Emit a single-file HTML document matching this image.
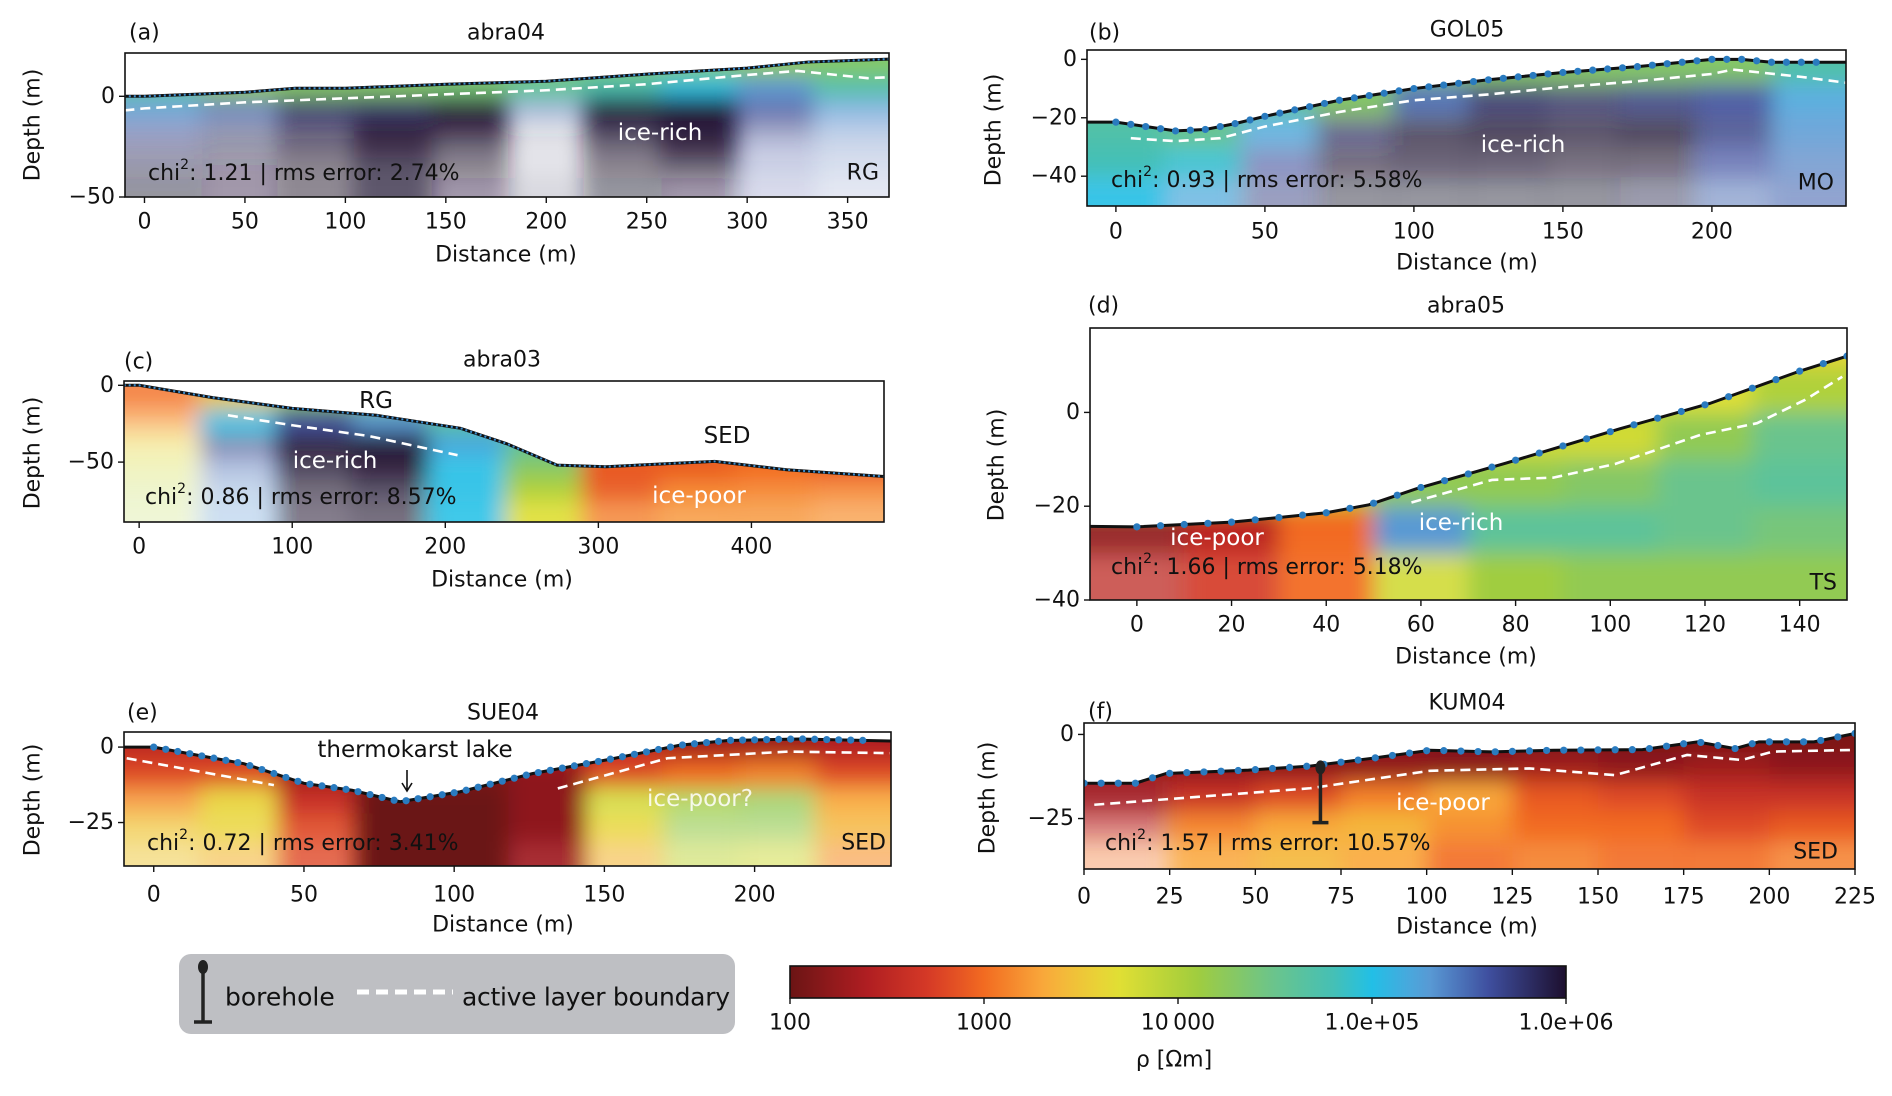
<!DOCTYPE html>
<html><head><meta charset="utf-8">
<style>
html,body{margin:0;padding:0;background:#fff;}
svg text{font-family:"DejaVu Sans","Liberation Sans",sans-serif;}
</style></head>
<body>
<svg id="fig" xmlns="http://www.w3.org/2000/svg" width="1892" height="1091" viewBox="0 0 1892 1091">
<defs>
<filter id="blur" filterUnits="userSpaceOnUse" x="0" y="0" width="1892" height="1091"><feGaussianBlur stdDeviation="11"/></filter>
<linearGradient id="cmapGrad" x1="0" x2="1" y1="0" y2="0"></linearGradient>
</defs>
</svg>
<script>
// ---------- DATA ----------
const aTopoX=[-10,0,25,50,75,100,150,200,250,300,330,371];
const aTopoZ=[0,0,1,2,4,4,6,7.5,11,14,17,18.5];
const aActX=[-10,0,50,100,150,200,250,300,325,360,371];
const aActZ=[-7,-6,-3,-1,1,3,6,10.6,12.6,9,9.5];
const aVals=[[4.3,4.3,4.3,4.3,4.3,4.3,4.3,4.3,4.2,4.3],[4.6,4.2,4.3,4.3,4.4,4.6,4.8,5.0,5.3,4.7],[5.3,5.5,5.8,5.8,6,5.5,6,6,5.6,5.3],[5.6,5.8,5.9,6,6,6,6,6,5.7,5.4],[5.8,5.9,6,6,6,6,6,6,5.6,5.5],[5.9,6,6,6,6,6,6,6,5.6,5.5],[6,6,6,6,6,6,6,6,5.6,5.5]];
const aAlpha=[[1,1,1,1,1,1,1,1,1,1],[1,1,1,1,1,1,1,1,1,1],[0.85,0.8,0.9,0.95,0.95,0.5,0.95,0.95,0.8,0.7],[0.55,0.5,0.7,0.9,0.85,0.15,0.8,0.95,0.5,0.4],[0.45,0.45,0.6,0.85,0.6,0.1,0.6,0.85,0.3,0.25],[0.45,0.4,0.5,0.7,0.5,0.1,0.5,0.6,0.25,0.2],[0.45,0.4,0.5,0.7,0.4,0.15,0.45,0.4,0.2,0.15]];
const aXTicks=[0,50,100,150,200,250,300,350];
const aYTicks=[0,-50];

const bTopoX=[-10,0,10,20,30,40,50,75,100,125,150,175,190,200,210,220,246];
const bTopoZ=[-21.5,-21.5,-23,-24.5,-24,-22,-19.5,-14,-10,-7,-4.5,-2.5,-1,0,0,-1,-1];
const bActX=[5,20,35,50,75,100,125,150,175,200,207,230,245];
const bActZ=[-27,-28,-27,-23,-18,-14,-12,-9.5,-7.5,-5,-3.5,-6,-8];
const bVals=[[4.6,4.6,4.6,4.3,4.3,4.3,4.3,4.3,4.3,4.7],[4.6,4.6,4.6,4.3,5.5,5.8,5.8,5.7,5.6,5.2],[4.7,4.5,5.2,5.8,6,6,6,6,5.7,5.3],[4.8,4.9,5.6,6,6,6,6,6,5.6,5.4],[5,5.2,5.7,6,6,6,6,5.9,5.5,5.5]];
const bAlpha=[[1,1,1,1,1,1,1,1,1,1],[1,1,1,1,0.9,0.85,0.8,0.85,0.9,0.9],[1,1,0.8,0.7,0.7,0.75,0.7,0.75,0.8,0.85],[1,0.9,0.6,0.6,0.65,0.65,0.6,0.6,0.7,0.7],[0.9,0.7,0.5,0.45,0.45,0.45,0.45,0.45,0.5,0.6]];
const bXTicks=[0,50,100,150,200];
const bYTicks=[0,-20,-40];

const cTopoX=[-10,0,48,100,155,210,240,273,305,376,423,488];
const cTopoZ=[0,0,-8,-15,-19.5,-28,-38,-52,-53,-49.5,-55,-59.5];
const cActX=[58,100,150,208];
const cActZ=[-19.5,-26,-33,-45.5];
const cVals=[[3.0,3.5,4.2,4.3,4.3,4.3,3,3,3,3],[3.2,5.0,5.6,5.3,4.6,4.4,3,3,3,3],[3.6,5.7,6,6,5.2,4.6,3,3,3,3],[3.8,5.5,6,6,5.0,4.3,2.9,2.9,3,2.9],[3.9,5.4,6,6,5.0,4.0,2.9,3.1,3.1,3.1],[4,5.3,6,6,5.0,3.7,3.1,3.2,3.2,3.2]];
const cAlpha=[[0.8,1,1,1,1,1,1,1,1,1],[0.6,0.9,1,1,1,1,1,1,1,1],[0.4,0.6,0.9,0.95,1,1,1,1,1,1],[0.3,0.4,0.75,0.9,0.9,1,1,1,1,1],[0.25,0.3,0.6,0.7,0.9,1,0.95,0.95,0.9,0.85],[0.2,0.3,0.55,0.6,0.85,0.9,0.8,0.8,0.8,0.7]];
const cXTicks=[0,100,200,300,400];
const cYTicks=[0,-50];

const dTopoX=[-10,0,20,40,49,59,78,102,121,140,150];
const dTopoZ=[-24.3,-24.4,-23.4,-21.4,-19.7,-16.3,-10.8,-3.5,1.9,8.8,12];
const dActX=[58,75,88,101,119,131,141,149];
const dActZ=[-19.2,-14.4,-13.9,-11,-4.8,-2.3,2.6,7.6];
const dVals=[[4,4,4,4,4,4,3.6,3.6],[4,4,4,4,4,4,3.7,4.0],[4,4,4,4,3.8,3.8,4.2,4.5],[4,4,4,4.2,4.2,4.3,4.5,4.6],[2.2,2.5,3.0,5.3,4.6,4.6,4.5,4.4],[2.5,2.7,3.0,3.8,4.1,4.2,4.2,4.2]];
const dAlpha=[[1,1,1,1,1,1,1,1],[1,1,1,1,1,1,1,1],[1,1,1,1,1,1,1,1],[1,1,1,1,1,1,1,1],[0.9,1,1,1,1,1,1,1],[0.75,0.9,0.95,0.9,1,1,1,1]];
const dXTicks=[0,20,40,60,80,100,120,140];
const dYTicks=[0,-20,-40];

const eTopoX=[-10,0,30,50,66,82,102,126,151,175,191,215,246];
const eTopoZ=[0,0,-5.5,-12,-14.3,-18.1,-14.8,-8.8,-4.2,0.6,2.2,2.7,2];
const eActX=[-9,40,null,134.5,171,211,245];
const eActZ=[-3.7,-12.6,null,-13.7,-3.7,-1.5,-2];
const eVals=[[2.5,2.5,2.5,2.5,2.5,2.5,2.5,2.3,2.3,2.4],[2.8,2.8,2.3,2.1,2.1,2.2,2.8,3.0,3.1,2.8],[3.2,3.6,2.6,2.0,2.0,2.2,3.8,4.1,4.2,3.3],[3.5,3.6,2.8,2.0,2.0,2.2,3.6,4.2,4.2,3.4],[3.5,3.4,2.8,2.0,2.0,2.3,3.4,3.9,3.8,3.2]];
const eAlpha=[[1,1,1,1,1,1,1,1,1,1],[1,1,1,1,1,1,1,1,1,1],[0.85,0.9,1,1,1,1,0.85,0.75,0.75,0.9],[0.7,0.8,0.9,1,1,1,0.8,0.6,0.6,0.8],[0.5,0.6,0.8,1,1,0.9,0.6,0.5,0.5,0.6]];
const eXTicks=[0,50,100,150,200];
const eYTicks=[0,-25];

const fTopoX=[0,15,24,48,66,84,101,119,137,163,179,190,197,213,225];
const fTopoZ=[-14.5,-14.5,-11.6,-10.6,-9.4,-7.1,-4.7,-5.2,-4.7,-4.5,-2.2,-4.2,-2.2,-2.2,0.3];
const fActX=[3,66,101,130,155,176,192,201,225];
const fActZ=[-20.9,-16,-10.8,-10.1,-12.1,-6.1,-7.6,-5.1,-4.6];
const fVals=[[2.2,2.2,2.2,2.2,2.1,2.1,2.1,2.1,2.1],[2.3,2.2,2.2,2.2,2.2,2.3,2.2,2.3,2.2],[2.3,2.6,2.8,3.1,3.3,2.9,2.8,2.6,2.6],[2.5,3.1,3.3,3.4,3.2,3.0,3.0,2.8,2.9],[3,3.3,3.4,3.3,3.0,3.1,3.0,3.0,3.1]];
const fAlpha=[[1,1,1,1,1,1,1,1,1],[1,1,1,1,1,1,1,1,1],[0.9,1,1,1,1,1,1,1,1],[0.6,0.95,1,1,1,1,1,1,1],[0.35,0.85,0.9,0.9,0.9,0.9,0.9,0.9,0.85]];
const fXTicks=[0,25,50,75,100,125,150,175,200,225];
const fYTicks=[0,-25];
const fBoreX=[69];
const fBoreTop=[-9.8];
const fBoreBottom=[-26.2];

const cbarTicks=[2,3,4,5,6];
const cbarLabels=["100","1000","10\u2009000","1.0e+05","1.0e+06"];

// ---------- colormap ----------
const cmStops=[[0,'#6b1414'],[0.1,'#b01e22'],[0.18,'#d63a26'],[0.25,'#f26b21'],[0.33,'#f9ab3c'],[0.42,'#e3e034'],[0.52,'#a3cd3b'],[0.62,'#6cc48a'],[0.7,'#45c0b5'],[0.75,'#22bfe6'],[0.82,'#5a9ed8'],[0.9,'#3f4f9f'],[1,'#1d0f2e']];
function hex2rgb(h){return [parseInt(h.substr(1,2),16),parseInt(h.substr(3,2),16),parseInt(h.substr(5,2),16)];}
function cmap(v){
  let t=Math.max(0,Math.min(1,(v-2)/4));
  for(let i=1;i<cmStops.length;i++){
    if(t<=cmStops[i][0]){
      const [t0,c0]=cmStops[i-1],[t1,c1]=cmStops[i];
      const f=(t-t0)/(t1-t0),a=hex2rgb(c0),b=hex2rgb(c1);
      return 'rgb('+a.map((x,k)=>Math.round(x+(b[k]-x)*f)).join(',')+')';
    }
  }
  return cmStops[cmStops.length-1][1];
}

const NS='http://www.w3.org/2000/svg';
const svg=document.getElementById('fig');
function mk(tag,attrs,parent){const e=document.createElementNS(NS,tag);for(const k in attrs)e.setAttribute(k,attrs[k]);(parent||svg).appendChild(e);return e;}
function txt(s,x,y,size,anchor,parent,fill){const t=mk('text',{x:x,y:y,'font-size':size,'text-anchor':anchor||'start','dominant-baseline':'central',fill:fill||'#111'},parent);t.textContent=s;return t;}

const panels=[
 {k:'a',title:'abra04',box:[125,53,889,197],xlim:[-9.7,370.6],ylim:[-50,21.5],topoX:aTopoX,topoZ:aTopoZ,actX:aActX,actZ:aActZ,vals:aVals,alpha:aAlpha,gx0:-10,gx1:371,gz0:20,gz1:-50,xt:aXTicks,yt:aYTicks,elec:null,
  lab:[129,33],tit:[506,33],yl:[33,125],tickY:222,xl:[506,255],chi:['1.21','2.74',148,173],code:['RG',879,173],
  notes:[['ice-rich',660,133,'#fff','middle']]},
 {k:'b',title:'GOL05',box:[1087,50,1846,206],xlim:[-9.7,245],ylim:[-50.2,3.2],topoX:bTopoX,topoZ:bTopoZ,actX:bActX,actZ:bActZ,vals:bVals,alpha:bAlpha,gx0:-10,gx1:246,gz0:3,gz1:-51,xt:bXTicks,yt:bYTicks,elec:[0,235,5],
  lab:[1089,33],tit:[1467,30],yl:[994,130],tickY:232,xl:[1467,263],chi:['0.93','5.58',1111,180],code:['MO',1834,183],
  notes:[['ice-rich',1523,145,'#fff','middle']]},
 {k:'c',title:'abra03',box:[124,381,884,522],xlim:[-9.9,486.6],ylim:[-89,2.8],topoX:cTopoX,topoZ:cTopoZ,actX:cActX,actZ:cActZ,vals:cVals,alpha:cAlpha,gx0:-10,gx1:488,gz0:0,gz1:-90,xt:cXTicks,yt:cYTicks,elec:null,
  lab:[124,362],tit:[502,360],yl:[33,453],tickY:547,xl:[502,580],chi:['0.86','8.57',145,497],code:null,
  notes:[['RG',376,401,'#111','middle'],['SED',727,436,'#111','middle'],['ice-rich',335,461,'#fff','middle'],['ice-poor',699,496,'#fff','middle']]},
 {k:'d',title:'abra05',box:[1090,328,1847,600],xlim:[-9.9,150],ylim:[-40,18],topoX:dTopoX,topoZ:dTopoZ,actX:dActX,actZ:dActZ,vals:dVals,alpha:dAlpha,gx0:-10,gx1:150,gz0:20,gz1:-40,xt:dXTicks,yt:dYTicks,elec:[0,150,5],
  lab:[1088,306],tit:[1466,306],yl:[997,465],tickY:625,xl:[1466,657],chi:['1.66','5.18',1111,567],code:['TS',1837,583],
  notes:[['ice-poor',1217,538,'#fff','middle'],['ice-rich',1461,523,'#fff','middle']]},
 {k:'e',title:'SUE04',box:[124,732,891,866],xlim:[-9.9,245.4],ylim:[-39.4,5],topoX:eTopoX,topoZ:eTopoZ,actX:eActX,actZ:eActZ,vals:eVals,alpha:eAlpha,gx0:-10,gx1:246,gz0:5,gz1:-40,xt:eXTicks,yt:eYTicks,elec:[0,236,4],
  lab:[127,713],tit:[503,713],yl:[33,800],tickY:895,xl:[503,925],chi:['0.72','3.41',147,843],code:['SED',886,843],
  notes:[['thermokarst lake',415,750,'#111','middle'],['ice-poor?',700,799,'rgba(255,255,255,0.85)','middle']]},
 {k:'f',title:'KUM04',box:[1084,723,1855,869],xlim:[0,225],ylim:[-40,3.4],topoX:fTopoX,topoZ:fTopoZ,actX:fActX,actZ:fActZ,vals:fVals,alpha:fAlpha,gx0:0,gx1:225,gz0:3.4,gz1:-40,xt:fXTicks,yt:fYTicks,elec:[0,225,5],
  lab:[1088,712],tit:[1467,703],yl:[988,798],tickY:897,xl:[1467,927],chi:['1.57','10.57',1105,843],code:['SED',1838,852],
  notes:[['ice-poor',1443,803,'#fff','middle']]}
];

function interp(xs,zs,x){
  for(let i=1;i<xs.length;i++){if(x<=xs[i]){const f=(x-xs[i-1])/(xs[i]-xs[i-1]);return zs[i-1]+(zs[i]-zs[i-1])*f;}}
  return zs[zs.length-1];
}

panels.forEach(p=>{
  const [X0,Y0,X1,Y1]=p.box;
  const sx=x=>X0+(x-p.xlim[0])/(p.xlim[1]-p.xlim[0])*(X1-X0);
  const sy=z=>Y1-(z-p.ylim[0])/(p.ylim[1]-p.ylim[0])*(Y1-Y0);
  const g=mk('g',{});
  
  

  const defs=svg.querySelector('defs');
  const cr=mk('clipPath',{id:'fr'+p.k},defs);
  mk('rect',{x:X0,y:Y0,width:X1-X0,height:Y1-Y0},cr);
  const ct=mk('clipPath',{id:'tp'+p.k},defs);
  let pts=[[X0-5,sy(p.topoZ[0])]];
  p.topoX.forEach((x,i)=>pts.push([sx(x),sy(p.topoZ[i])]));
  pts.push([X1+5,sy(p.topoZ[p.topoZ.length-1])],[X1+5,Y1+5],[X0-5,Y1+5]);
  mk('polygon',{points:pts.map(q=>q.join(',')).join(' ')},ct);

  const g1=mk('g',{'clip-path':'url(#fr'+p.k+')'},g);
  const g2=mk('g',{'clip-path':'url(#tp'+p.k+')'},g1);
  const cells=mk('g',{filter:'url(#blur)'},g2);
  
  
  const nr=p.vals.length,nc=p.vals[0].length;
  const dx=(p.gx1-p.gx0)/nc,dz=(p.gz0-p.gz1)/nr;
  for(let r=0;r<nr;r++)for(let c=0;c<nc;c++){
    let xa=sx(p.gx0+c*dx),xb=sx(p.gx0+(c+1)*dx);
    let ya=sy(p.gz0-r*dz),yb=sy(p.gz0-(r+1)*dz);
    if(c===0)xa-=40; if(c===nc-1)xb+=40;
    if(r===0)ya-=50; if(r===nr-1)yb+=40;
    const rc=mk('rect',{x:xa,y:ya,width:xb-xa+1,height:yb-ya+1,fill:cmap(p.vals[r][c]),'fill-opacity':p.alpha[r][c]},cells);
    
    
  }
  let d='',pen=false;
  p.actX.forEach((x,i)=>{if(x===null){pen=false;return;}d+=(pen?'L':'M')+sx(x)+','+sy(p.actZ[i])+' ';pen=true;});
  const al=mk('path',{d:d,fill:'none',stroke:'#fff','stroke-width':2.6,'stroke-dasharray':'10 6'},g1);
  
  
  const td='M'+X0+','+sy(p.topoZ[0])+' '+p.topoX.map((x,i)=>'L'+sx(x)+','+sy(p.topoZ[i])).join(' ');
  const tl=mk('path',{d:td,fill:'none',stroke:'#111','stroke-width':3},g1);
  
  
  if(p.elec){
    for(let x=p.elec[0];x<=p.elec[1]+0.01;x+=p.elec[2]){
      const e=mk('circle',{cx:sx(x),cy:sy(interp(p.topoX,p.topoZ,x)),r:3.6,fill:'#2a7bbf'},g1);
      
      
    }
  } else {
    const dl=mk('path',{d:td,fill:'none',stroke:'#3b8ed0','stroke-width':2,'stroke-dasharray':'2 3'},g1);
    
    
  }
  const fr=mk('rect',{x:X0,y:Y0,width:X1-X0,height:Y1-Y0,fill:'none',stroke:'#111','stroke-width':1.6},g);
  
  
  p.xt.forEach(v=>{
    const x=sx(v);
    const t=mk('line',{x1:x,x2:x,y1:Y1,y2:Y1+6,stroke:'#111','stroke-width':1.4},g);
    
    
    const l=txt(String(v),x,p.tickY,22,'middle',g);
    
    
  });
  p.yt.forEach(v=>{
    const y=sy(v);
    const t=mk('line',{x1:X0-6,x2:X0,y1:y,y2:y,stroke:'#111','stroke-width':1.4},g);
    
    
    const l=txt(v<0?'\u2212'+Math.abs(v):String(v),X0-10,y,22,'end',g);
    
    
  });
  const pl=txt('('+p.k+')',p.lab[0],p.lab[1],22,'start',g);
  
  
  const ti=txt(p.title,p.tit[0],p.tit[1],22,'middle',g);
  
  
  const xl=txt('Distance (m)',p.xl[0],p.xl[1],22,'middle',g);
  
  
  const yl=txt('Depth (m)',0,0,22,'middle',g);
  yl.setAttribute('transform','translate('+p.yl[0]+','+p.yl[1]+') rotate(-90)');
  
  
  const ch=mk('text',{x:p.chi[2],y:p.chi[3],'font-size':22,'dominant-baseline':'central',fill:'#111'},g);
  
  
  const t1=mk('tspan',{},ch);t1.textContent='chi';
  const t2=mk('tspan',{dy:-8,'font-size':14},ch);t2.textContent='2';
  const t3=mk('tspan',{dy:8},ch);t3.textContent=': '+p.chi[0]+' | rms error: '+p.chi[1]+'%';
  if(p.code){
    const cd=txt(p.code[0],p.code[1],p.code[2],22,'end',g);
    
    
  }
  p.notes.forEach(n=>{
    const a=txt(n[0],n[1],n[2],23,n[4],g,n[3]);
    
    
  });
  if(p.k==='e'){
    const ar=mk('path',{d:'M407,770 L407,790 M402,783 L407,791 L412,783',fill:'none',stroke:'#111','stroke-width':1.6},g);
    
    
  }
  if(p.k==='f'){
    fBoreX.forEach((bx,i)=>{
      const x=sx(bx),ya=sy(fBoreTop[i]),yb=sy(fBoreBottom[i]);
      const bg=mk('g',{},g1);
      
      
      mk('line',{x1:x,x2:x,y1:ya,y2:yb,stroke:'#222','stroke-width':3.5},bg);
      mk('line',{x1:x-8,x2:x+8,y1:yb,y2:yb,stroke:'#222','stroke-width':3.5},bg);
      mk('ellipse',{cx:x,cy:ya,rx:5,ry:7,fill:'#222'},bg);
    });
  }
});

// ---------- legend ----------
const lg=mk('g',{});


mk('rect',{x:179,y:954,width:556,height:80,rx:12,fill:'#bebfc3'},lg);
const bi=mk('g',{},lg);


mk('line',{x1:203,x2:203,y1:965,y2:1022,stroke:'#222','stroke-width':3.5},bi);
mk('line',{x1:194,x2:212,y1:1022,y2:1022,stroke:'#222','stroke-width':3.5},bi);
mk('ellipse',{cx:203,cy:967,rx:5,ry:7,fill:'#222'},bi);
const lb=txt('borehole',225,997,25,'start',lg);


const ld=mk('line',{x1:357,x2:453,y1:992,y2:992,stroke:'#fff','stroke-width':5,'stroke-dasharray':'12 7'},lg);


const la=txt('active layer boundary',462,997,25,'start',lg);
la.setAttribute('textLength','268');



// ---------- colorbar ----------
const grad=document.getElementById('cmapGrad');
for(let i=0;i<=40;i++){mk('stop',{offset:(i/40),'stop-color':cmap(2+4*i/40)},grad);}
const cb=mk('g',{});


const CX0=790,CX1=1566,CY0=966,CY1=998;
const cr=mk('rect',{x:CX0,y:CY0,width:CX1-CX0,height:CY1-CY0,fill:'url(#cmapGrad)',stroke:'#111','stroke-width':1.6},cb);


cbarTicks.forEach((v,i)=>{
  const x=CX0+(v-2)/4*(CX1-CX0);
  const t=mk('line',{x1:x,x2:x,y1:CY1,y2:CY1+6,stroke:'#111','stroke-width':1.4},cb);
  
  
  const l=txt(cbarLabels[i],x,1023,22,'middle',cb);
  
  
});
const ct=txt('\u03C1 [\u03A9m]',1174,1060,22,'middle',cb);


</script>
</body></html>
